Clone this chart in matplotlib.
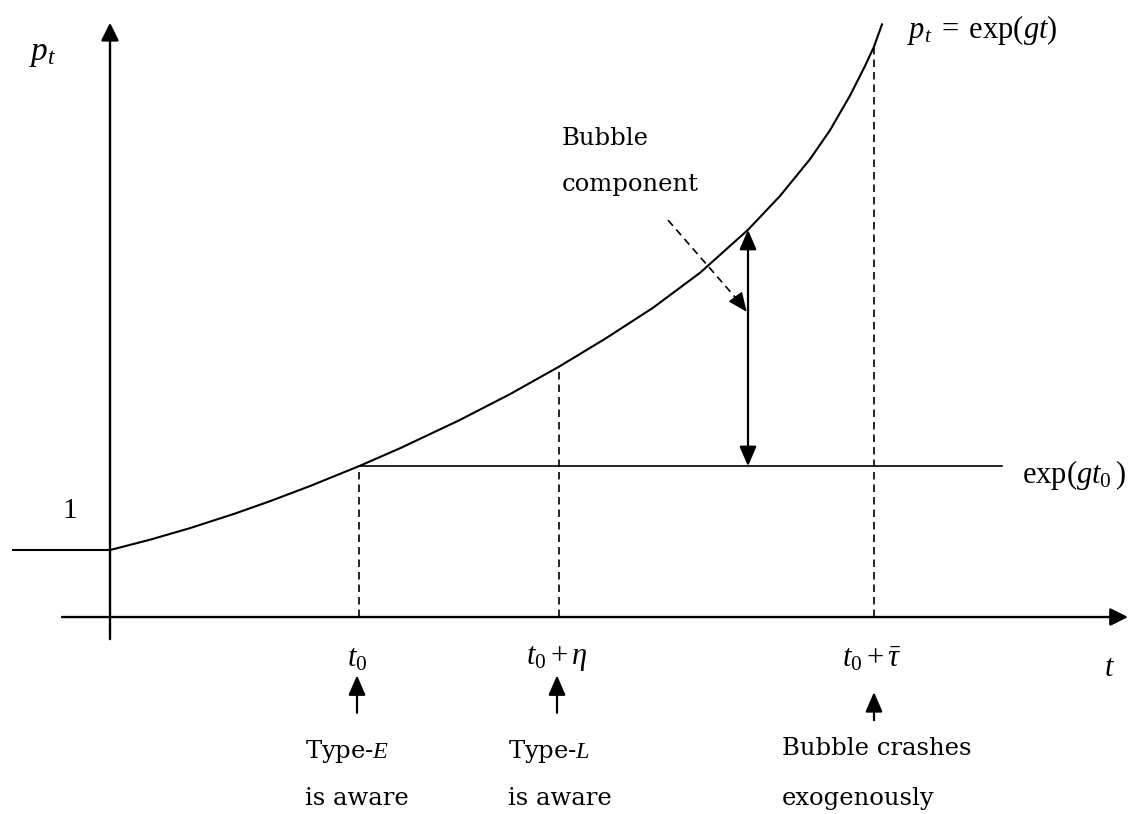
import matplotlib
matplotlib.use("Agg")
import matplotlib.pyplot as plt

# --- Data (t along the time axis, p along the price axis) ---

curve_t = [0.0, 0.4, 0.8, 1.245, 1.6, 2.0, 2.49, 2.9, 3.49, 4.0, 4.49,
           4.95, 5.43, 5.9, 6.38, 6.7, 7.0, 7.2, 7.4, 7.55, 7.64, 7.72]
curve_p = [1.000, 1.154, 1.327, 1.542, 1.729, 1.955, 2.252, 2.519, 2.935,
           3.327, 3.737, 4.152, 4.616, 5.138, 5.780, 6.285, 6.834, 7.266,
           7.783, 8.225, 8.514, 8.846]

t0 = 2.49
eta = 2.0
tau_bar = 5.15
p_t0 = 2.252          # exp(g t0)
p_eta = 3.737         # curve height at t0 + eta
p_tau = 8.514         # curve height at t0 + tau_bar
t_bubble = 6.38       # where the bubble component is measured
p_bubble = 5.78

event_times = [t0, t0 + eta, t0 + tau_bar]
event_labels = [r"$t_0+$", r"$t_0+\eta$", r"$t_0+\bar{\tau}$"]
event_labels[0] = r"$t_0$"
event_notes = [("Type-$E$", "is aware"),
               ("Type-$L$", "is aware"),
               ("Bubble crashes", "exogenously")]

# --- Figure setup ---

plt.rcParams["mathtext.fontset"] = "custom"
plt.rcParams["mathtext.rm"] = "Liberation Serif"
plt.rcParams["mathtext.it"] = "Liberation Serif:italic"
text_font = "DejaVu Serif"
text_size = 17.5
math_size = 22

fig = plt.figure(figsize=(11.4, 8.14), dpi=100)
ax = fig.add_axes([0, 0, 1, 1])
ax.set_xlim(-1.10, 10.30)
ax.set_ylim(-2.94, 9.21)
ax.axis("off")


def arrow(ax, start, tip, style="-|>", lw=1.6, ms=20, hl=0.54, hw=0.27):
    ax.annotate("", xy=tip, xytext=start,
                arrowprops=dict(arrowstyle=f"{style},head_length={hl},head_width={hw}",
                                lw=lw, color="black", shrinkA=0, shrinkB=0,
                                mutation_scale=ms))


# axes with arrow heads
arrow(ax, (0, -0.33), (0, 8.87), lw=1.7)
arrow(ax, (-0.48, 0), (10.18, 0), lw=1.7)

# price path: flat at 1 before t=0, then the exponential curve
ax.plot([-0.98, 0], [1, 1], color="black", lw=1.5, solid_capstyle="butt")
ax.plot(curve_t, curve_p, color="black", lw=1.5, solid_joinstyle="round")

# exp(g t0) level
ax.plot([t0, 8.92], [p_t0, p_t0], color="black", lw=1.2)

# dashed verticals
for tx, top in zip(event_times, [p_t0, p_eta, p_tau]):
    ax.plot([tx, tx], [0, top], color="black", lw=1.2, dashes=(4.5, 3))

# bubble component double arrow
arrow(ax, (t_bubble, p_t0), (t_bubble, p_bubble), style="<|-|>",
      lw=1.6, hl=0.6, hw=0.26)

# dashed pointer to the bubble component
ax.plot([5.58, 6.30], [5.925, 4.69], color="black", lw=1.2, dashes=(4.5, 3))
arrow(ax, (6.30, 4.69), (6.367, 4.556), lw=1.0, hl=0.6, hw=0.26)
ax.text(4.52, 7.15, "Bubble", family=text_font, fontsize=text_size,
        ha="left", va="center")
ax.text(4.52, 6.45, "component", family=text_font, fontsize=text_size,
        ha="left", va="center")

# axis labels
ax.text(-0.67, 8.42, r"$p_t$", fontsize=24, ha="center", va="center")
ax.text(-0.40, 1.58, "1", family="Liberation Serif", fontsize=21,
        ha="center", va="center")
ax.text(10.0, -0.75, r"$t$", fontsize=math_size, ha="center", va="center")
ax.text(7.97, 8.76, r"$p_t\;=\;\mathrm{exp}(gt)$", fontsize=math_size,
        ha="left", va="center")
ax.text(9.12, 2.12, r"$\mathrm{exp}(gt_0\,)$", fontsize=math_size,
        ha="left", va="center")

# event labels, up arrows and notes below the time axis
note_left = [1.95, 3.98, 6.72]
for i, (tx, lab, note) in enumerate(zip(event_times, event_labels, event_notes)):
    ax.text(tx - 0.02, -0.62, lab, fontsize=math_size, ha="center", va="center")
    if i < 2:
        arrow(ax, (tx - 0.02, -1.43), (tx - 0.02, -0.87), hl=0.6, hw=0.26)
    else:
        arrow(ax, (tx, -1.54), (tx, -1.12), hl=0.6, hw=0.26)
    y1 = -2.01 if i < 2 else -1.96
    ax.text(note_left[i], y1, note[0], family=text_font, fontsize=text_size,
            ha="left", va="center")
    ax.text(note_left[i], -2.71, note[1], family=text_font, fontsize=text_size,
            ha="left", va="center")

fig.savefig("out.png", dpi=100, facecolor="white")
